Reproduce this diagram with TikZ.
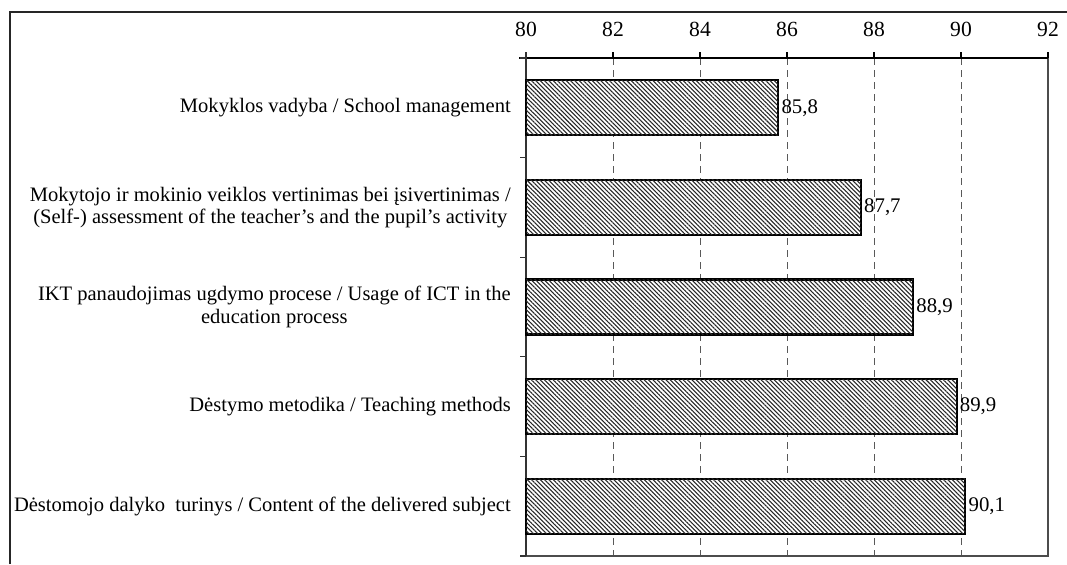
\documentclass[tikz,border=0pt]{standalone}
\usepackage{fontspec}
\setmainfont{Liberation Serif}
\usetikzlibrary{patterns.meta}

\begin{document}
\begin{tikzpicture}[x=0.75pt,y=-0.75pt,
	hbar/.style={draw=black,line width=1.7pt,fill=white,
		postaction={pattern={Lines[angle=-45,distance=2.3pt,line width=0.8pt]},pattern color=black!85}},
	gridline/.style={dash pattern=on 5.5pt off 3.5pt,black!65,line width=0.7pt},
	catlabel/.style={font=\fontsize{15.4}{16.8}\selectfont,align=center,anchor=east,inner sep=0pt},
	vallabel/.style={font=\fontsize{15.6}{16.5}\selectfont,anchor=west,inner sep=0pt},
	axlabel/.style={font=\fontsize{16.2}{17}\selectfont,inner sep=0pt}]
	\useasboundingbox (0,0) rectangle (1067,564);
	% outer frame (cut at right and bottom)
	\draw[line width=0.9pt,black!85] (10,564)--(10,12)--(1067,12);
	% grid and axis ticks
	\foreach \v in {82,84,...,90} {
		\draw[gridline] ({526+(\v-80)*43.5},58)--({526+(\v-80)*43.5},556);
	}
	\foreach \v in {80,82,...,92} {
		\draw[line width=0.8pt] ({526+(\v-80)*43.5},52)--({526+(\v-80)*43.5},58);
		\node[axlabel] (t\v) at ({526+(\v-80)*43.5},29) {\v};
	}
	% axes
	\draw[line width=0.8pt,black!70] (1048,58)--(1048,556)--(526,556);
	\draw[line width=0.9pt] (519,58)--(1048,58);
	\draw[line width=0.9pt,black!80] (526,52)--(526,556);
	\foreach \y in {58,157.6,257.2,356.8,456.4,556} {
		\draw[line width=0.8pt,black!80] (520,\y)--(526,\y);
	}
	% bars
	\foreach \v/\yc/\t/\n in {85.8/107.8/{85,8}/a, 87.7/207.4/{87,7}/b, 88.9/307/{88,9}/c, 89.9/406.6/{89,9}/d, 90.1/506.2/{90,1}/e} {
		\draw[hbar] (526,\yc-27.5) rectangle ({526+(\v-80)*43.5},\yc+27.5);
		\node[vallabel] (v\n) at ({529+(\v-80)*43.5},\yc) {\t};
	}
	% category labels
	\node[catlabel] (ca) at (511,107.8) {Mokyklos vadyba / School management};
	\node[catlabel] (cb) at (511,207.4) {Mokytojo ir mokinio veiklos vertinimas bei įsivertinimas /\\(Self-) assessment of the teacher’s and the pupil’s activity};
	\node[catlabel] (cc) at (511,307) {IKT panaudojimas ugdymo procese / Usage of ICT in the\\education process};
	\node[catlabel] (cd) at (511,406.6) {Dėstymo metodika / Teaching methods};
	\node[catlabel] (ce) at (511,506.2) {Dėstomojo dalyko\ \ turinys / Content of the delivered subject};
\end{tikzpicture}
\end{document}
